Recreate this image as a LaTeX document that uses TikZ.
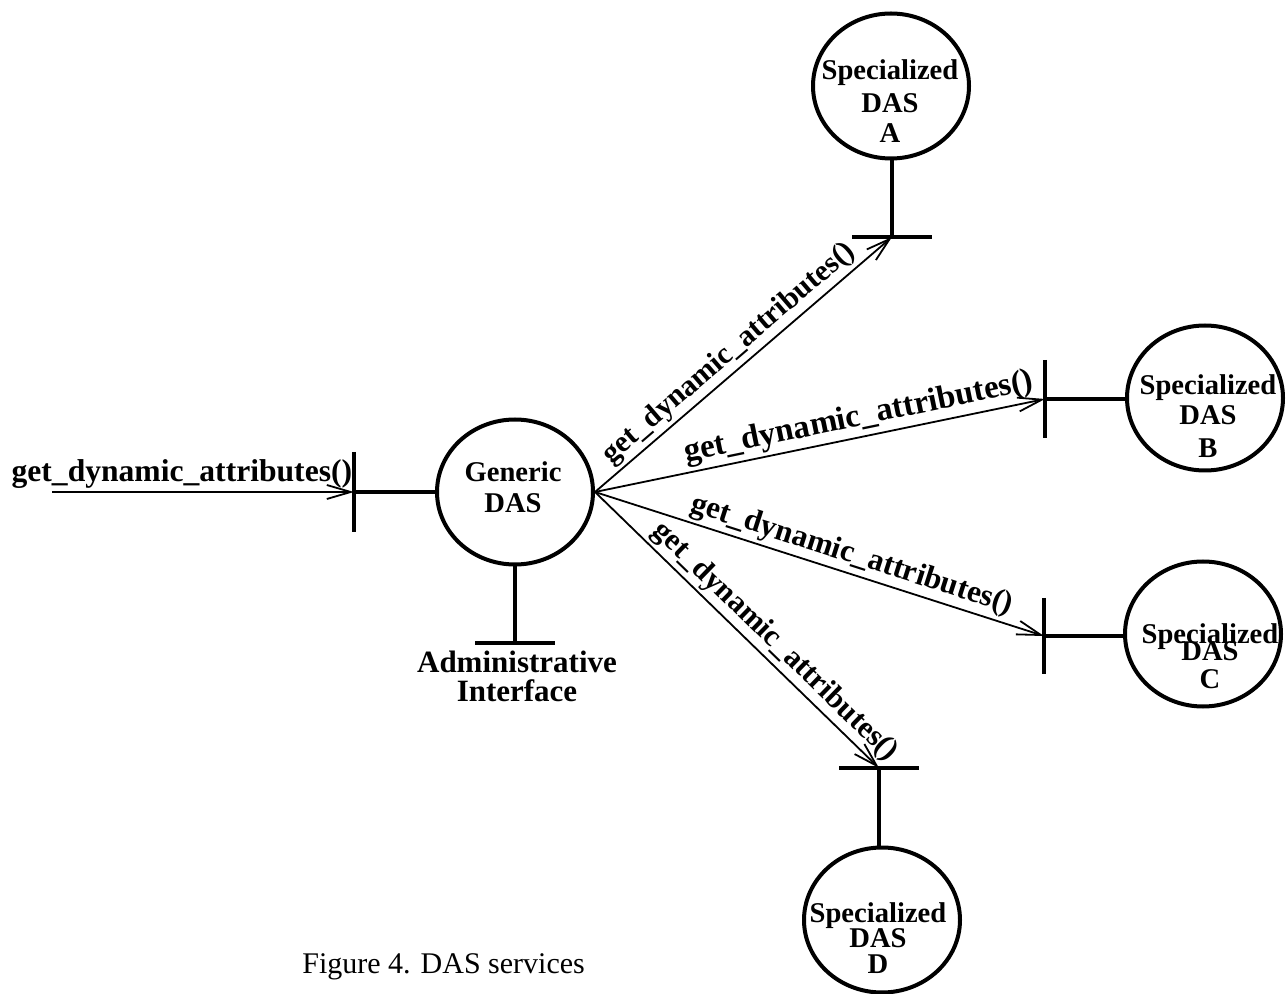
\documentclass[tikz,border=0pt]{standalone}
\usepackage{fontspec}
\setmainfont{Liberation Serif}
\usetikzlibrary{arrows.meta,shapes.geometric}
\begin{document}
\begin{tikzpicture}[x=0.5pt,y=-0.5pt,
  das/.style={draw,line width=2pt,ellipse,minimum width=78pt,minimum height=72.5pt,inner sep=0pt},
  tbar/.style={line width=2.2pt},
  msg/.style={line width=0.9pt,-{Straight Barb[length=12pt,width=7pt,line width=0.9pt]}},
  lbl/.style={font=\fontsize{#1}{#1}\selectfont\bfseries,inner sep=1.5pt},
  lbl/.default=15,
  dtxt/.style={font=\fontsize{14.3}{15}\selectfont\bfseries,anchor=base,inner sep=0pt},
  atxt/.style={font=\fontsize{15.5}{16}\selectfont\bfseries,anchor=base,inner sep=0pt},
]
\useasboundingbox (0,0) rectangle (1286,994);
\fill[white] (0,0) rectangle (1286,994);

% DAS circles
\node[das] (G) at (515,492) {};
\node[das] (A) at (891,86) {};
\node[das] (B) at (1205,398) {};
\node[das] (C) at (1203,634) {};
\node[das] (D) at (882,920) {};

% texts in circles
\node[dtxt] (g1) at (513,482) {Generic};
\node[dtxt] (g2) at (513,513) {DAS};
\node[dtxt] (a1) at (890,80) {Specialized};
\node[dtxt] (a2) at (890,113) {DAS};
\node[dtxt] (a3) at (890,143) {A};
\node[dtxt] (b1) at (1208,395) {Specialized};
\node[dtxt] (b2) at (1208,425) {DAS};
\node[dtxt] (b3) at (1208,458) {B};
\node[dtxt] (c1) at (1210,643) {Specialized};
\node[dtxt] (c2) at (1210,661) {DAS};
\node[dtxt] (c3) at (1210,689) {C};
\node[dtxt] (d1) at (878,922) {Specialized};
\node[dtxt] (d2) at (878,947) {DAS};
\node[dtxt] (d3) at (878,973) {D};

% interface junctions
\coordinate (lj) at (354,492);
\coordinate (gj) at (515,643);
\coordinate (aj) at (892,237);
\coordinate (bj) at (1045,399);
\coordinate (cj) at (1044,636);
\coordinate (dj) at (879,768);
\coordinate (in) at (52,492);

% T-bars
\draw[tbar] ([yshift=20pt]lj) -- ([yshift=-20pt]lj);
\draw[tbar] (lj) -- (lj -| G.west);
\draw[tbar] ([xshift=-20pt]gj) -- ([xshift=20pt]gj);
\draw[tbar] (gj |- G.south) -- (gj);
\draw[tbar] ([xshift=-20pt]aj) -- ([xshift=20pt]aj);
\draw[tbar] (aj |- A.south) -- (aj);
\draw[tbar] ([yshift=19.5pt]bj) -- ([yshift=-19.5pt]bj);
\draw[tbar] (bj) -- (bj -| B.west);
\draw[tbar] ([yshift=19pt]cj) -- ([yshift=-19pt]cj);
\draw[tbar] (cj) -- (cj -| C.west);
\draw[tbar] ([xshift=-20pt]dj) -- ([xshift=20pt]dj);
\draw[tbar] (dj) -- (dj |- D.north);

% messages
\draw[msg] (in) -- node[lbl=15.8,above,pos=0.43] (lm) {get\_dynamic\_attributes()} (lj);
\draw[msg] (G.east) -- node[lbl=15,above,sloped,pos=0.49] (ma) {get\_dynamic\_attributes()} (aj);
\draw[msg] (G.east) -- node[lbl=16.5,above,sloped,pos=0.595] (mb) {get\_dynamic\_attributes()} (bj);
\draw[msg] (G.east) -- node[lbl=15.6,above,sloped,pos=0.56] (mc) {get\_dynamic\_attributes()} (cj);
\draw[msg] (G.east) -- node[lbl=15.3,above,sloped,pos=0.59] (md) {get\_dynamic\_attributes()} (dj);

% administrative interface
\node[atxt] (ad1) at (517,672) {Administrative};
\node[atxt] (ad2) at (517,701) {Interface};

% caption
\node[anchor=base west,font=\fontsize{15}{15}\selectfont,inner sep=0pt] (cap) at (302,973) {Figure 4. DAS services};
\end{tikzpicture}
\end{document}
